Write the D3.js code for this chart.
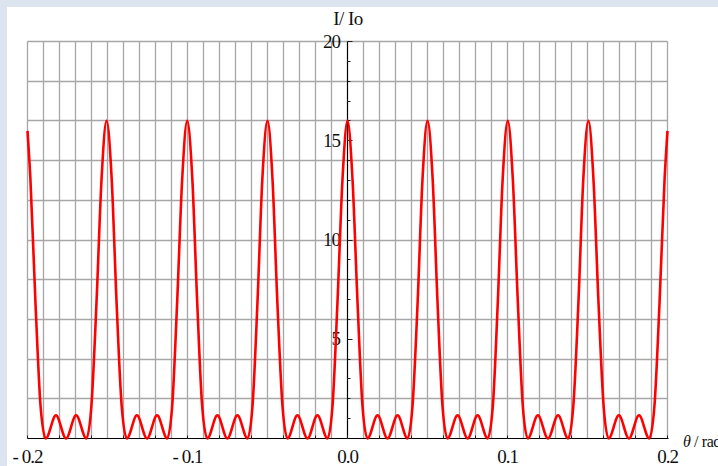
<!DOCTYPE html>
<html>
<head>
<meta charset="utf-8">
<script src="https://cdn.jsdelivr.net/npm/d3@7"></script>
<style>
  html, body { margin: 0; padding: 0; background: #dbe4ef; }
  #container { width: 718px; height: 466px; overflow: hidden; }
</style>
</head>
<body>
<div id="container"></div>
<script>
// theta (rad) and I/Io
var thetaValues = [
  -0.2000, -0.1982, -0.1950, -0.1918, -0.1886, -0.1822, -0.1759, -0.1696, -0.1632, -0.1601, -0.1569, -0.1537,
  -0.1506, -0.1474, -0.1443, -0.1411, -0.1379, -0.1316, -0.1253, -0.1190, -0.1127, -0.1096, -0.1065, -0.1033,
  -0.1002, -0.0970, -0.0939, -0.0908, -0.0876, -0.0813, -0.0751, -0.0688, -0.0625, -0.0594, -0.0563, -0.0532,
  -0.0500, -0.0469, -0.0438, -0.0406, -0.0375, -0.0313, -0.0250, -0.0188, -0.0125, -0.0094, -0.0063, -0.0031,
  0.0000, 0.0031, 0.0063, 0.0094, 0.0125, 0.0188, 0.0250, 0.0313, 0.0375, 0.0406, 0.0438, 0.0469,
  0.0500, 0.0532, 0.0563, 0.0594, 0.0625, 0.0688, 0.0751, 0.0813, 0.0876, 0.0908, 0.0939, 0.0970,
  0.1002, 0.1033, 0.1065, 0.1096, 0.1127, 0.1190, 0.1253, 0.1316, 0.1379, 0.1411, 0.1443, 0.1474,
  0.1506, 0.1537, 0.1569, 0.1601, 0.1632, 0.1696, 0.1759, 0.1822, 0.1886, 0.1918, 0.1950, 0.1982,
  0.2000
]
var intensityValues = [
  15.5, 13.1, 6.8, 1.6, 0, 1.17, 0, 1.17, 0, 1.6, 6.8, 13.1,
  16, 13.1, 6.8, 1.6, 0, 1.17, 0, 1.17, 0, 1.6, 6.8, 13.1,
  16, 13.1, 6.8, 1.6, 0, 1.17, 0, 1.17, 0, 1.6, 6.8, 13.1,
  16, 13.1, 6.8, 1.6, 0, 1.17, 0, 1.17, 0, 1.6, 6.8, 13.1,
  16, 13.1, 6.8, 1.6, 0, 1.17, 0, 1.17, 0, 1.6, 6.8, 13.1,
  16, 13.1, 6.8, 1.6, 0, 1.17, 0, 1.17, 0, 1.6, 6.8, 13.1,
  16, 13.1, 6.8, 1.6, 0, 1.17, 0, 1.17, 0, 1.6, 6.8, 13.1,
  16, 13.1, 6.8, 1.6, 0, 1.17, 0, 1.17, 0, 1.6, 6.8, 13.1,
  15.5
]
var xTickValues = [-0.2, -0.1, 0.0, 0.1, 0.2]
var xTickLabels = ['- 0.2', '- 0.1', '0.0', '0.1', '0.2']
var yTickValues = [5, 10, 15, 20]
var yTickLabels = ['5', '10', '15', '20']
var xGridValues = d3.range(-20, 21).map(function (i) { return i / 100 })
var yGridValues = [2, 4, 6, 8, 10, 12, 14, 16, 18, 20]
var yMinorValues = d3.range(1, 21)

var W = 718, H = 466
var FONT = '"Liberation Serif", "Times New Roman", Times, "DejaVu Serif", serif'

var svg = d3.select('#container')
  .append('svg')
  .attr('width', W)
  .attr('height', H)
  .style('font-family', FONT)

// white panel
svg.append('rect')
  .attr('x', 7).attr('y', 7)
  .attr('width', W - 7).attr('height', H - 7)
  .attr('fill', '#fff')

var x = d3.scaleLinear().domain([-0.2, 0.2]).range([27.5, 667.5])
var y = d3.scaleLinear().domain([0, 20]).range([438.5, 41.5])

// grid
var grid = svg.append('g').attr('class', 'grid')
grid.selectAll('.vline')
  .data(xGridValues.filter(function (d) { return Math.abs(d) > 1e-9 }))
  .enter().append('line')
  .attr('x1', function (d) { return Math.round(x(d) - 0.5) + 0.5 })
  .attr('x2', function (d) { return Math.round(x(d) - 0.5) + 0.5 })
  .attr('y1', y(20)).attr('y2', y(0))
  .attr('stroke', '#a6a6a6')
  .attr('stroke-width', 1.3)
grid.selectAll('.hline')
  .data(yGridValues)
  .enter().append('line')
  .attr('x1', x(-0.2)).attr('x2', x(0.2))
  .attr('y1', function (d) { return Math.round(y(d) - 0.5) + 0.5 })
  .attr('y2', function (d) { return Math.round(y(d) - 0.5) + 0.5 })
  .attr('stroke', '#a6a6a6')
  .attr('stroke-width', 1.3)

// axes
var axes = svg.append('g').attr('class', 'axes')
axes.append('line')
  .attr('x1', x(-0.2)).attr('x2', x(0.2) + 1)
  .attr('y1', y(0)).attr('y2', y(0))
  .attr('stroke', '#000').attr('stroke-width', 1.2)
axes.append('line')
  .attr('x1', x(0)).attr('x2', x(0))
  .attr('y1', y(20)).attr('y2', y(0))
  .attr('stroke', '#000').attr('stroke-width', 1.2)

axes.selectAll('.ytick')
  .data(yMinorValues)
  .enter().append('line')
  .attr('x1', x(0))
  .attr('x2', function (d) { return x(0) + (d % 5 === 0 ? 5 : 3) })
  .attr('y1', function (d) { return Math.round(y(d) - 0.5) + 0.5 })
  .attr('y2', function (d) { return Math.round(y(d) - 0.5) + 0.5 })
  .attr('stroke', '#222').attr('stroke-width', 1)

axes.selectAll('.xtick')
  .data(xGridValues.filter(function (d, i) { return i % 2 === 0 }))
  .enter().append('line')
  .attr('x1', function (d) { return x(d) }).attr('x2', function (d) { return x(d) })
  .attr('y1', y(0)).attr('y2', y(0) - 3)
  .attr('stroke', '#222').attr('stroke-width', 1)

axes.selectAll('.xlabel')
  .data(xTickValues)
  .enter().append('text')
  .attr('x', function (d) { return x(d) })
  .attr('y', 463)
  .attr('text-anchor', 'middle')
  .attr('font-size', 19)
  .attr('letter-spacing', -1)
  .attr('fill', '#111')
  .text(function (d, i) { return xTickLabels[i] })

axes.selectAll('.ylabel')
  .data(yTickValues)
  .enter().append('text')
  .attr('x', 340)
  .attr('y', function (d) { return y(d) + 6 })
  .attr('text-anchor', 'end')
  .attr('font-size', 19)
  .attr('letter-spacing', -1)
  .attr('fill', '#111')
  .text(function (d, i) { return yTickLabels[i] })

svg.append('text')
  .attr('x', 348).attr('y', 25)
  .attr('text-anchor', 'middle')
  .attr('font-size', 19)
  .attr('letter-spacing', -0.5)
  .attr('fill', '#111')
  .text('I/ Io')

// axis title, runs off the right edge as in the original
var xTitle = svg.append('text')
  .attr('x', 683).attr('y', 447)
  .attr('font-size', 16)
  .attr('letter-spacing', -0.4)
  .attr('fill', '#111')
xTitle.append('tspan').attr('font-style', 'italic').text('θ')
xTitle.append('tspan').text(' / rad')

// curve
var points = thetaValues.map(function (t, i) { return [t, intensityValues[i]] })
var line = d3.line()
  .x(function (d) { return x(d[0]) })
  .y(function (d) { return y(d[1]) })
  .curve(d3.curveMonotoneX)

svg.append('path')
  .datum(points)
  .attr('d', line)
  .attr('fill', 'none')
  .attr('stroke', '#ff0000')
  .attr('stroke-width', 2.6)
  .attr('stroke-linejoin', 'round')
</script>
</body>
</html>
